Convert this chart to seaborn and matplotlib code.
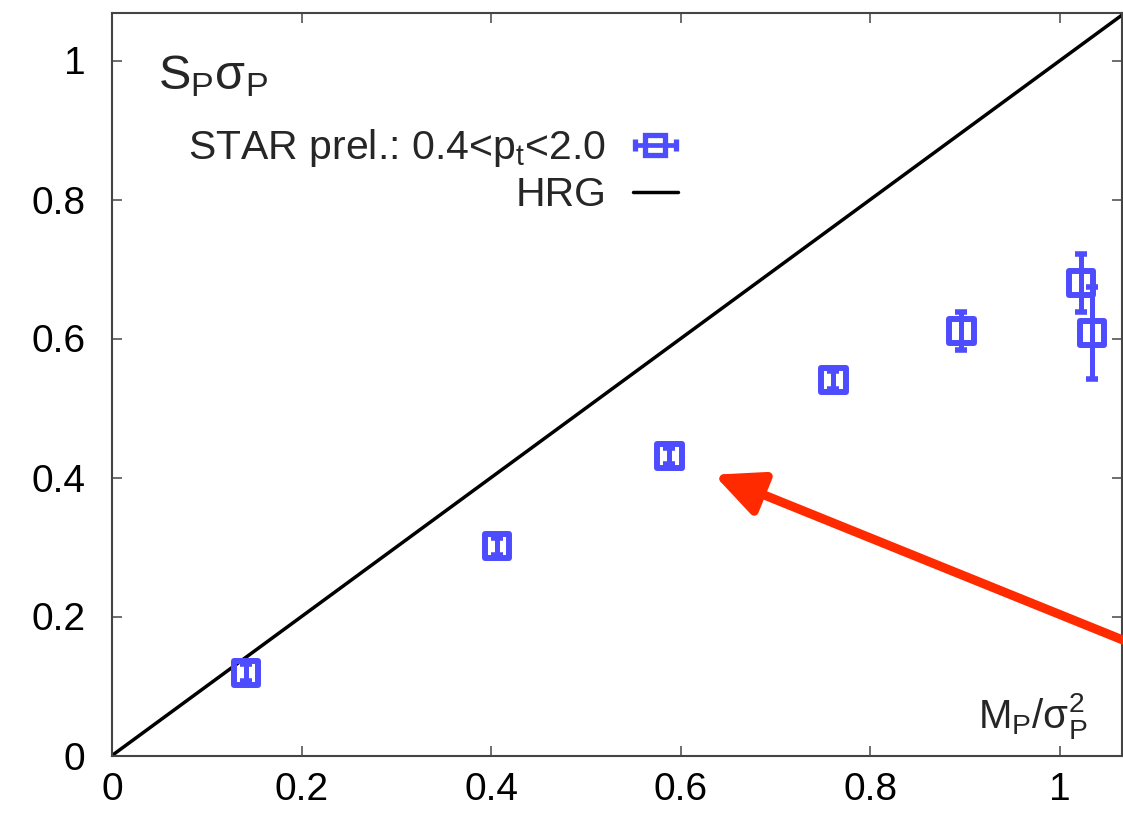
import matplotlib
matplotlib.use("Agg")
import matplotlib.pyplot as plt
import pandas as pd
import seaborn as sns

# Proton cumulant ratios, STAR preliminary (0.4 < pt < 2.0 GeV)
m_over_sigma2 = [0.141, 0.406, 0.588, 0.761, 0.896, 1.022, 1.034]
s_sigma = [0.119, 0.301, 0.431, 0.540, 0.611, 0.680, 0.608]
s_sigma_err = [0.012, 0.012, 0.012, 0.013, 0.027, 0.042, 0.066]

# Hadron resonance gas expectation: S*sigma = M/sigma^2
hrg_x = [0.0, 1.2]
hrg_y = [0.0, 1.2]

tick_values = [0, 0.2, 0.4, 0.6, 0.8, 1.0]
tick_labels = ["0", "0.2", "0.4", "0.6", "0.8", "1"]

# annotation arrow (tail beyond the frame, head near the 0.59 point)
arrow_tail = (1.15, 0.120)
arrow_head = (0.635, 0.404)

BLUE = "#4d4dff"
RED = "#ff2a00"

sns.set_theme(style="ticks")
plt.rcParams["font.family"] = ["Liberation Sans", "DejaVu Sans"]
plt.rcParams["mathtext.fontset"] = "custom"
plt.rcParams["mathtext.rm"] = "Liberation Sans"
plt.rcParams["mathtext.it"] = "Liberation Sans"
plt.rcParams["mathtext.sf"] = "Liberation Sans"

W, H = 1123, 817
fig = plt.figure(figsize=(W / 100, H / 100), dpi=100)
ax = fig.add_axes([112 / W, (H - 755.5) / H, (1122 - 112) / W, (755.5 - 13) / H])

df = pd.DataFrame({"x": m_over_sigma2, "y": s_sigma, "err": s_sigma_err})
hrg = pd.DataFrame({"x": hrg_x, "y": hrg_y})

sns.lineplot(data=hrg, x="x", y="y", ax=ax, color="black", lw=2.5, zorder=2)

ax.errorbar(df["x"], df["y"], yerr=df["err"], fmt="none", ecolor=BLUE,
            elinewidth=3.6, capsize=4, capthick=4, zorder=3)
sns.scatterplot(data=df, x="x", y="y", ax=ax, marker="s", s=17.5 ** 2,
                facecolor="none", edgecolor=BLUE, linewidth=4.3, zorder=4)

# legend proxies
star_proxy = ax.errorbar([float("nan")], [float("nan")], xerr=[float("nan")],
                         fmt="s", ms=14, mfc="none", mec=BLUE, mew=3.8,
                         ecolor=BLUE, elinewidth=3.4, capsize=4, capthick=4)
hrg_proxy, = ax.plot([], [], color="black", lw=2.5)

ax.legend([star_proxy, hrg_proxy],
          [r"STAR prel.: 0.4<$\mathregular{p_t}$<2.0", "HRG"],
          loc="upper right", bbox_to_anchor=(678 / W, 1 - 127 / H),
          bbox_transform=fig.transFigure, frameon=False, markerfirst=False,
          fontsize=29.5, handlelength=1.1, handletextpad=0.65,
          labelspacing=0.18, borderpad=0, borderaxespad=0)

# arrow
ax.annotate("", xy=arrow_head, xytext=arrow_tail, xycoords="data",
            textcoords="data", annotation_clip=False,
            arrowprops=dict(arrowstyle="-|>,head_length=2.9,head_width=1.35",
                            mutation_scale=10, color=RED, lw=6.5,
                            shrinkA=0, shrinkB=0))

ax.set_xlim(0, (1122 - 112) / 948)
ax.set_ylim(0, (755.5 - 13) / 695)
ax.set_xticks(tick_values)
ax.set_xticklabels(tick_labels)
ax.set_yticks(tick_values)
ax.set_yticklabels(tick_labels)
ax.tick_params(axis="both", which="major", direction="in", length=7,
               width=1.2, color="#555555", labelsize=28,
               top=True, right=True, labelcolor="black")
ax.tick_params(axis="x", pad=12)
ax.tick_params(axis="y", pad=19)

for sp in ax.spines.values():
    sp.set_visible(True)
    sp.set_color("#444444")
    sp.set_linewidth(1.5)

ax.set_xlabel(r"$\mathregular{M_P/\sigma_P^2}$", fontsize=29, ha="right", va="baseline")
ax.xaxis.set_label_coords(0.966, 0.037)
ax.set_ylabel(r"$\mathregular{S_P\sigma_P}$", fontsize=35, rotation=0,
              ha="left", va="baseline")
ax.yaxis.set_label_coords(0.0455, 0.898)

fig.savefig("out.png", dpi=100)
